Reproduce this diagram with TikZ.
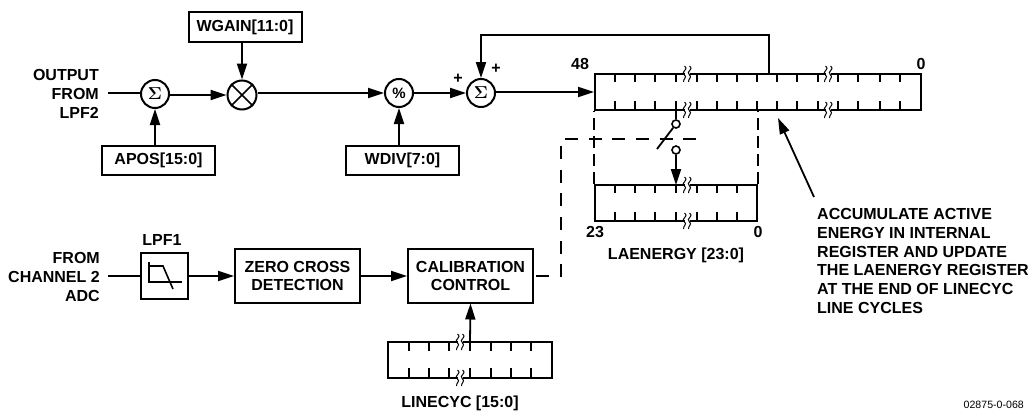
\documentclass[tikz,border=0pt]{standalone}
\usepackage{fontspec}
\setmainfont{Liberation Sans}
\usepackage{tikz}
\usetikzlibrary{arrows.meta, positioning, calc}

% two wavy strokes that cut a register edge
\newcommand{\regbreak}[2]{%
  \fill[white] (#1-2.5,#2-3) rectangle (#1+2.5,#2+3);
  \draw[line width=1] (#1-2.5,#2-8) .. controls (#1+2.5,#2-4) and (#1-7,#2-3) .. (#1-2.5,#2+1) .. controls (#1+0.5,#2+3) and (#1-4,#2+5) .. (#1-3.5,#2+8);
  \draw[line width=1] (#1+2.5,#2-8) .. controls (#1+7.5,#2-4) and (#1-2,#2-3) .. (#1+2.5,#2+1) .. controls (#1+5.5,#2+3) and (#1+1,#2+5) .. (#1+1.5,#2+8);
}

\begin{document}
\begin{tikzpicture}[
            x=1pt, y=-1pt,
            >={Triangle[length=16,width=10]},
            wire/.style={line width=1.8},
            box/.style={draw, line width=2, align=center, inner sep=0pt, font=\fontsize{16}{18}\selectfont\bfseries},
            op/.style={draw, line width=2, circle, minimum size=28, inner sep=0pt, font=\fontsize{15}{15}\selectfont\bfseries},
            side/.style={align=right, anchor=east, inner sep=0pt, font=\fontsize{16}{18.8}\selectfont\bfseries},
            tag/.style={font=\fontsize{16}{18}\selectfont\bfseries},
            reg/.style={draw, line width=2, inner sep=0pt},
            contact/.style={draw, line width=1.6, circle, fill=white, minimum size=8, inner sep=0pt}
        ]
        \useasboundingbox (0,0) rectangle (1030,415);

        % --- INPUT CHAIN ---
        \node[side] (output) at (99, 94) {OUTPUT\\FROM\\LPF2};
        \coordinate (outstart) at (108, 93);
        \node[op] (sum1) at (155, 94) {{\fontsize{18}{18}\selectfont\boldmath$\Sigma$}};
        \node[box, minimum width=113, minimum height=29] (apos) at (158.5, 160.5) {APOS[15:0]};
        \node[box, minimum width=113, minimum height=30] (wgain) at (245, 27) {WGAIN[11:0]};
        \node[op, minimum size=29] (mult) at (242, 95) {};
        \draw[line width=1.6] (mult.45) -- (mult.225) (mult.135) -- (mult.315);
        \node[op] (div) at (399, 93) {\%};
        \node[box, minimum width=113, minimum height=29] (wdiv) at (402.5, 160.5) {WDIV[7:0]};
        \node[op] (sum2) at (481, 93) {{\fontsize{18}{18}\selectfont\boldmath$\Sigma$}};
        \node[tag] (plusa) at (458, 79) {+};
        \node[tag] (plusb) at (496, 69) {+};

        \draw[wire] (outstart) -- (sum1.west |- outstart);
        \draw[wire, ->] (sum1.east |- mult.west) -- (mult.west);
        \draw[wire, ->] (apos.north -| sum1) -- (sum1);
        \draw[wire, ->] (wgain.south -| mult) -- (mult);
        \draw[wire, ->] (mult.east |- div.west) -- (div);
        \draw[wire, ->] (wdiv.north -| div) -- (div);
        \draw[wire, ->] (div) -- (sum2);

        % --- ACCUMULATOR ---
        \node[reg, minimum width=326, minimum height=36] (acc) at (758, 92) {};
        \foreach \x in {615,635,655,676,697,717,737,757,777,797,818,838,858,880,900} {
            \draw[line width=1.5] (\x,74) -- ++(0,8) (\x,110) -- ++(0,-9);
        }
        \regbreak{687}{74}
        \regbreak{687}{110}
        \regbreak{828}{74}
        \regbreak{828}{110}
        \node[tag] (acctop) at (580, 64) {48};
        \node[tag] (accend) at (921, 64) {0};
        \draw[wire, ->] (sum2.east |- acc.west) -- (acc.west);
        \coordinate (feedback) at (769, 74);
        \draw[wire, ->] (feedback) -- ++(0,-39) -| (sum2);

        % --- LAENERGY ---
        \node[reg, minimum width=162, minimum height=36] (energy) at (676, 203) {};
        \foreach \x in {615,635,655,676,697,717,737} {
            \draw[line width=1.5] (\x,185) -- ++(0,8) (\x,221) -- ++(0,-9);
        }
        \regbreak{687}{185}
        \regbreak{687}{221}
        \node[tag] (energylo) at (595, 232) {23};
        \node[tag] (energyhi) at (758, 232) {0};
        \node[tag] (energyname) at (676, 255) {LAENERGY [23:0]};
        \draw[line width=1.3, dash pattern=on 12 off 6] (energy.north west) -- (acc.south -| energy.north west);
        \draw[line width=1.3, dash pattern=on 12 off 6] (energy.north east) -- (acc.south -| energy.north east);

        % --- SWITCH ---
        \node[contact] (swa) at (676, 124) {};
        \node[contact] (swb) at (676, 150) {};
        \coordinate (swtop) at (676, 110);
        \coordinate (swbottom) at (676, 185);
        \coordinate (blade) at (657, 149);
        \draw[wire] (swtop) -- (swa);
        \draw[wire] (swa) -- (blade);
        \draw[wire, ->] (swb) -- (swbottom);

        % --- LOWER CHAIN ---
        \node[side] (adc) at (100, 277) {FROM\\CHANNEL 2\\ADC};
        \coordinate (adcstart) at (108, 276);
        \node[box, minimum width=47, minimum height=46] (lpf) at (164.5, 276) {};
        \draw[line width=2] (149,262) -- (149,282) -- (182,282);
        \draw[line width=1.6] (149,266) -- (163,266) -- (173,289);
        \node[tag] (lpfname) at (162, 240) {LPF1};
        \node[box, minimum width=125, minimum height=54] (zero) at (297.5, 275.5) {ZERO CROSS\\DETECTION};
        \node[box, minimum width=125, minimum height=54] (cal) at (470.5, 275.5) {CALIBRATION\\CONTROL};
        \draw[wire] (adcstart) -- (lpf.west |- adcstart);
        \draw[wire, ->] (lpf.east |- adcstart) -- (zero.west |- adcstart);
        \draw[wire, ->] (zero.east |- adcstart) -- (cal.west |- adcstart);

        % --- DASHED CONTROL LINE ---
        \coordinate (ctrlend) at (697, 139);
        \draw[line width=1.2, dash pattern=on 13 off 10.7, dash phase=21.7] (cal.east |- adcstart) -| (561, 139) -- (ctrlend);

        % --- LINECYC ---
        \node[reg, minimum width=164, minimum height=36] (cyc) at (470, 360) {};
        \foreach \x in {409,429,449,470,491,511,531} {
            \draw[line width=1.5] (\x,342) -- ++(0,9) (\x,378) -- ++(0,-10);
        }
        \regbreak{460}{342}
        \regbreak{460}{378}
        \node[tag] (cycname) at (460, 403) {LINECYC [15:0]};
        \draw[wire, ->] (cyc.north) -- (cal.south);

        % --- NOTE ---
        \node[align=left, anchor=west, inner sep=0pt, font=\fontsize{16}{18.8}\selectfont\bfseries] (note) at (817, 261) {ACCUMULATE ACTIVE\\ENERGY IN INTERNAL\\REGISTER AND UPDATE\\THE LAENERGY REGISTER\\AT THE END OF LINECYC\\LINE CYCLES};
        \coordinate (notetip) at (778, 118);
        \coordinate (notefoot) at (814, 197);
        \draw[wire, ->] (notefoot) -- (notetip);

        \node[anchor=east, inner sep=0pt, font=\fontsize{10.6}{11}\selectfont] (code) at (1024, 405) {02875-0-068};
\end{tikzpicture}
\end{document}
